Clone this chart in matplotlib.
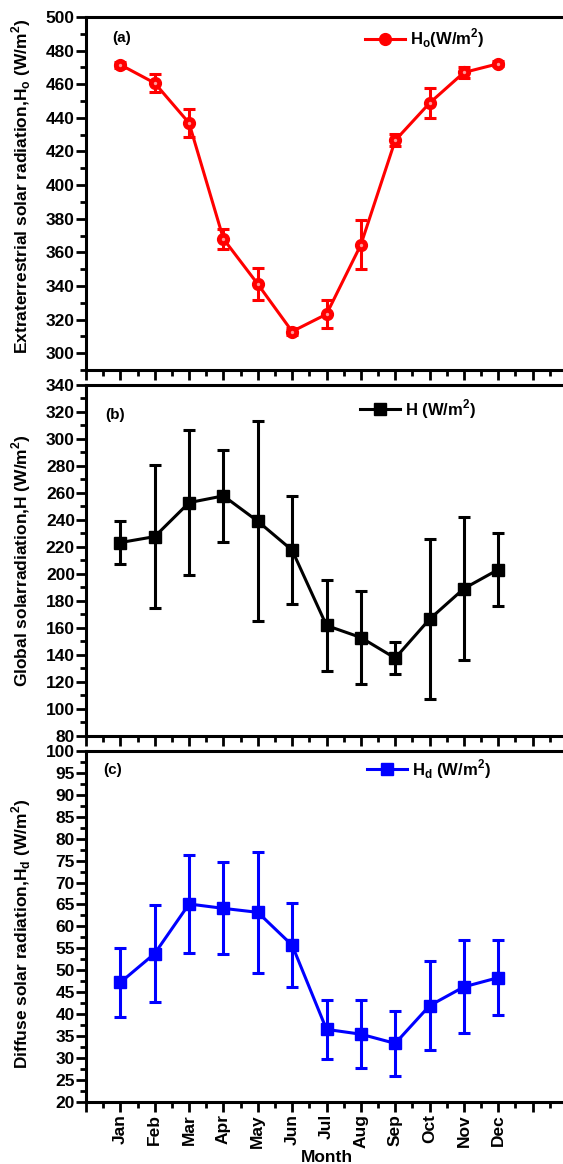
import numpy as np
import matplotlib.pyplot as plt
from matplotlib.ticker import MultipleLocator

plt.rcParams['font.family'] = ['Liberation Sans', 'DejaVu Sans']
plt.rcParams['font.weight'] = 'bold'
plt.rcParams['mathtext.default'] = 'bf'

months = ['Jan', 'Feb', 'Mar', 'Apr', 'May', 'Jun',
          'Jul', 'Aug', 'Sep', 'Oct', 'Nov', 'Dec']
month_pos = np.arange(1, 13)

# (a) extraterrestrial radiation
ho = [471.6, 460.7, 436.9, 368.0, 341.1, 312.9, 323.2, 364.5, 426.6, 448.8, 467.0, 472.2]
ho_err = [1.8, 5.5, 8.5, 6.0, 9.3, 1.8, 8.3, 14.7, 3.5, 8.7, 3.0, 1.5]

# (b) global radiation
hg = [223.2, 227.6, 252.8, 257.8, 239.0, 217.5, 161.7, 152.8, 137.5, 166.4, 189.1, 203.2]
hg_err = [16.0, 53.0, 53.7, 34.3, 74.0, 40.0, 34.0, 34.4, 12.0, 59.4, 53.3, 27.4]

# (c) diffuse radiation
hd = [47.2, 53.8, 65.1, 64.1, 63.2, 55.7, 36.5, 35.4, 33.3, 41.9, 46.2, 48.3]
hd_err = [7.9, 11.0, 11.2, 10.5, 13.8, 9.6, 6.7, 7.7, 7.5, 10.2, 10.6, 8.5]

W, H = 563, 1164
fig = plt.figure(figsize=(W / 100, H / 100), dpi=100)


def make_axes(top_px, bottom_px):
    left = 86 / W
    width = 481 / W
    return fig.add_axes([left, 1 - bottom_px / H, width, (bottom_px - top_px) / H])


def style_axes(ax, ylim, major, minor, show_months=False):
    ax.set_xlim(0, 14)
    ax.set_ylim(*ylim)
    ax.set_xticks(np.arange(0, 15))
    if show_months:
        ax.set_xticklabels([''] + months + ['', ''], rotation=90, fontsize=13,
                           fontweight='bold')
    else:
        ax.set_xticklabels([])
    ax.xaxis.set_minor_locator(MultipleLocator(0.5))
    ax.yaxis.set_major_locator(MultipleLocator(major))
    ax.yaxis.set_minor_locator(MultipleLocator(minor))
    ax.tick_params(axis='both', which='major', direction='out', length=7,
                   width=2, labelsize=12.5)
    ax.tick_params(axis='both', which='minor', direction='out', length=4,
                   width=2)
    ax.tick_params(axis='y', pad=1)
    ax.tick_params(axis='x', pad=2)
    for s in ['top', 'bottom', 'left', 'right']:
        ax.spines[s].set_linewidth(2.2)
    for lab in ax.get_yticklabels():
        lab.set_fontweight('bold')


def series(ax, vals, errs, color, marker, ms, label):
    ax.errorbar(month_pos, vals, yerr=errs, fmt='none', ecolor=color,
                elinewidth=2.2, capsize=4, capthick=2.2, zorder=3)
    ax.plot(month_pos, vals, color=color, marker=marker, markersize=ms,
            linewidth=2.2, label=label, zorder=4)


# panel a
ax1 = make_axes(17, 370)
series(ax1, ho, ho_err, '#ff0000', 'o', 8.5, r'H$_\mathregular{o}$(W/m$^\mathregular{2}$)')
ax1.plot(month_pos, ho, 'o', ms=2.4, mew=0, color='#ff9a9a', zorder=5)
style_axes(ax1, (290, 500), 20, 10)
ax1.set_ylabel(r'Extraterrestrial solar radiation,H$_\mathregular{o}$ (W/m$^\mathregular{2}$)',
               fontsize=12.5, fontweight='bold')
ax1.yaxis.set_label_coords(-0.11, 0.52)
ax1.text(0.054, 0.94, '(a)', transform=ax1.transAxes, fontsize=11,
         fontweight='bold', va='center')

# panel b
ax2 = make_axes(385, 735.7)
series(ax2, hg, hg_err, '#000000', 's', 8.5, r'H (W/m$^\mathregular{2}$)')
style_axes(ax2, (80, 340), 20, 10)
ax2.set_ylabel(r'Global solarradiation,H (W/m$^\mathregular{2}$)',
               fontsize=12.5, fontweight='bold')
ax2.yaxis.set_label_coords(-0.11, 0.5)
ax2.text(0.04, 0.914, '(b)', transform=ax2.transAxes, fontsize=11,
         fontweight='bold', va='center')

# panel c
ax3 = make_axes(751, 1101.7)
series(ax3, hd, hd_err, '#0000ff', 's', 8.5, r'H$_\mathregular{d}$ (W/m$^\mathregular{2}$)')
style_axes(ax3, (20, 100), 5, 2.5, show_months=True)
ax3.set_ylabel(r'Diffuse solar radiation,H$_\mathregular{d}$ (W/m$^\mathregular{2}$)',
               fontsize=12.5, fontweight='bold')
ax3.yaxis.set_label_coords(-0.11, 0.48)
ax3.set_xlabel('Month', fontsize=12.5, fontweight='bold', labelpad=1)
ax3.text(0.035, 0.946, '(c)', transform=ax3.transAxes, fontsize=11,
         fontweight='bold', va='center')

legend_pos = [(ax1, 0.58, 0.94), (ax2, 0.57, 0.932), (ax3, 0.585, 0.949)]
for ax, lx, ly in legend_pos:
    leg = ax.legend(loc='center left', bbox_to_anchor=(lx, ly), frameon=False,
                    borderpad=0, borderaxespad=0, handlelength=2.4,
                    handletextpad=0.3, prop={'weight': 'bold', 'size': 12})

fig.savefig('out.png', dpi=100)
